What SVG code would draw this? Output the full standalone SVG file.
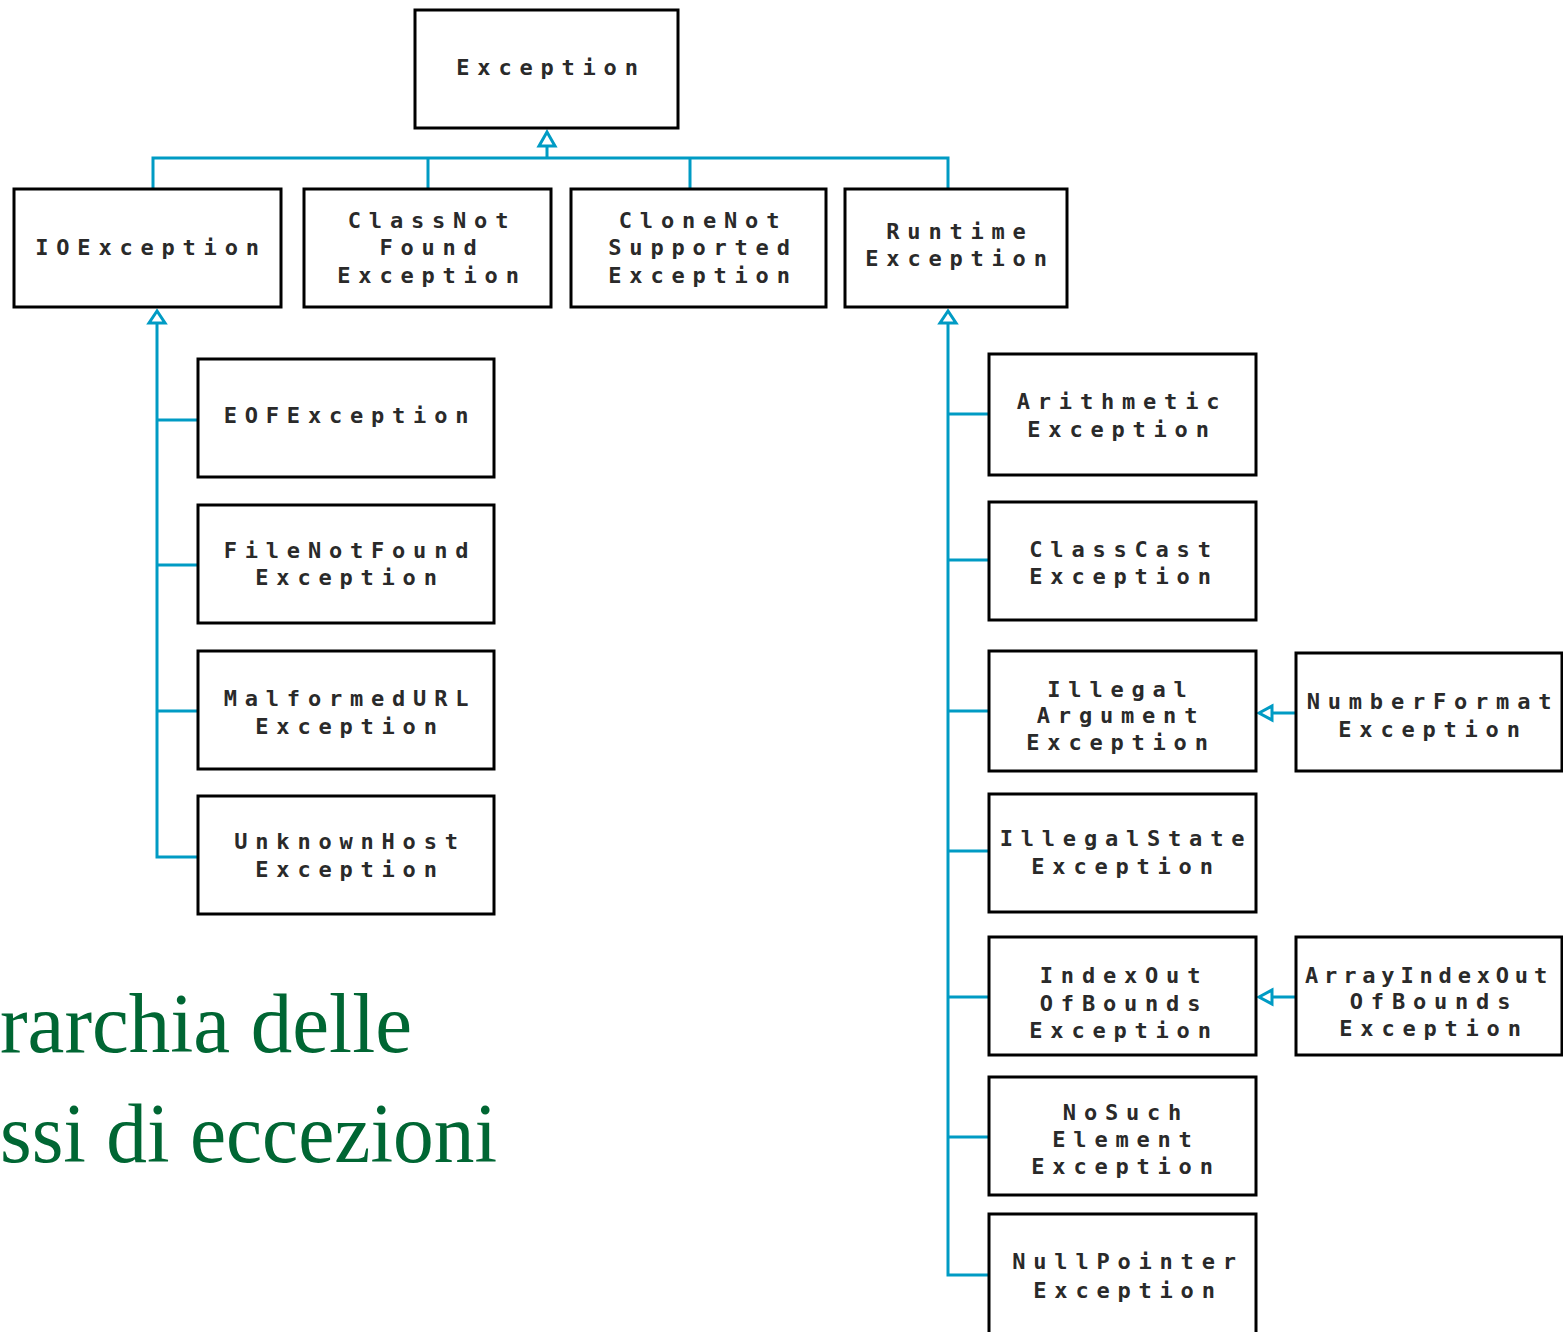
<svg xmlns="http://www.w3.org/2000/svg" width="1563" height="1332" viewBox="0 0 1563 1332">
<style>
.box{fill:#fff;stroke:#000;stroke-width:3}
.lbl{font-family:"DejaVu Sans Mono","Liberation Mono",monospace;font-size:22px;font-weight:bold;letter-spacing:7.8px;fill:#2a2a2a;text-anchor:middle}
.wire{fill:none;stroke:#009BC4;stroke-width:3}
.head{fill:#fff;stroke:#009BC4;stroke-width:3}
.title{font-family:"Liberation Serif","DejaVu Serif",serif;font-size:84px;fill:#006633}
</style>
<rect width="1563" height="1332" fill="#fff"/>
<g id="connectors">
<path class="wire" d="M153,189 V158 H948 V189 M428,158 V189 M690,158 V189 M547,158 V146"/>
<path class="wire" d="M157,323 V857 H198 M157,420 H198 M157,565 H198 M157,711 H198"/>
<path class="wire" d="M948,323 V1275 H989 M948,414 H989 M948,560 H989 M948,711 H989 M948,851 H989 M948,997 H989 M948,1137 H989"/>
<path class="wire" d="M1272,713 H1296 M1272,997 H1296"/>
<polygon class="head" points="547,132 539,146 555,146"/>
<polygon class="head" points="157,311 149,323 165,323"/>
<polygon class="head" points="948,311 940,323 956,323"/>
<polygon class="head" points="1259,713 1272,706 1272,720"/>
<polygon class="head" points="1259,997 1272,990 1272,1004"/>
</g>
<g id="n-exception"><rect class="box" x="415" y="10" width="263" height="118"/><text class="lbl" x="551" y="75">Exception</text></g>
<g id="n-ioexception"><rect class="box" x="14" y="189" width="267" height="118"/><text class="lbl" x="151" y="255">IOException</text></g>
<g id="n-classnotfound"><rect class="box" x="304" y="189" width="247" height="118"/><text class="lbl" x="432" y="228">ClassNot</text><text class="lbl" x="432" y="255">Found</text><text class="lbl" x="432" y="283">Exception</text></g>
<g id="n-clonenotsupported"><rect class="box" x="571" y="189" width="255" height="118"/><text class="lbl" x="703" y="228">CloneNot</text><text class="lbl" x="703" y="255">Supported</text><text class="lbl" x="703" y="283">Exception</text></g>
<g id="n-runtime"><rect class="box" x="845" y="189" width="222" height="118"/><text class="lbl" x="960" y="239">Runtime</text><text class="lbl" x="960" y="266">Exception</text></g>
<g id="n-eof"><rect class="box" x="198" y="359" width="296" height="118"/><text class="lbl" x="350" y="423">EOFException</text></g>
<g id="n-filenotfound"><rect class="box" x="198" y="505" width="296" height="118"/><text class="lbl" x="350" y="558">FileNotFound</text><text class="lbl" x="350" y="585">Exception</text></g>
<g id="n-malformedurl"><rect class="box" x="198" y="651" width="296" height="118"/><text class="lbl" x="350" y="706">MalformedURL</text><text class="lbl" x="350" y="734">Exception</text></g>
<g id="n-unknownhost"><rect class="box" x="198" y="796" width="296" height="118"/><text class="lbl" x="350" y="849">UnknownHost</text><text class="lbl" x="350" y="877">Exception</text></g>
<g id="n-arithmetic"><rect class="box" x="989" y="354" width="267" height="121"/><text class="lbl" x="1122" y="409">Arithmetic</text><text class="lbl" x="1122" y="437">Exception</text></g>
<g id="n-classcast"><rect class="box" x="989" y="502" width="267" height="118"/><text class="lbl" x="1124" y="557">ClassCast</text><text class="lbl" x="1124" y="584">Exception</text></g>
<g id="n-illegalargument"><rect class="box" x="989" y="651" width="267" height="120"/><text class="lbl" x="1121" y="697">Illegal</text><text class="lbl" x="1121" y="723">Argument</text><text class="lbl" x="1121" y="750">Exception</text></g>
<g id="n-illegalstate"><rect class="box" x="989" y="794" width="267" height="118"/><text class="lbl" x="1126" y="846">IllegalState</text><text class="lbl" x="1126" y="874">Exception</text></g>
<g id="n-indexout"><rect class="box" x="989" y="937" width="267" height="118"/><text class="lbl" x="1124" y="983">IndexOut</text><text class="lbl" x="1124" y="1011">OfBounds</text><text class="lbl" x="1124" y="1038">Exception</text></g>
<g id="n-nosuchelement"><rect class="box" x="989" y="1077" width="267" height="118"/><text class="lbl" x="1126" y="1120">NoSuch</text><text class="lbl" x="1126" y="1147">Element</text><text class="lbl" x="1126" y="1174">Exception</text></g>
<g id="n-nullpointer"><rect class="box" x="989" y="1214" width="267" height="130"/><text class="lbl" x="1128" y="1269">NullPointer</text><text class="lbl" x="1128" y="1298">Exception</text></g>
<g id="n-numberformat"><rect class="box" x="1296" y="653" width="266" height="118"/><text class="lbl" x="1433" y="709">NumberFormat</text><text class="lbl" x="1433" y="737">Exception</text></g>
<g id="n-arrayindexout"><rect class="box" x="1296" y="937" width="266" height="118"/><text class="lbl" x="1430" y="983" textLength="250">ArrayIndexOut</text><text class="lbl" x="1434" y="1009">OfBounds</text><text class="lbl" x="1434" y="1036">Exception</text></g>
<g id="title">
<text class="title" x="0" y="1052" textLength="412" lengthAdjust="spacingAndGlyphs">rarchia delle</text>
<text class="title" x="0" y="1162" textLength="497" lengthAdjust="spacingAndGlyphs">ssi di eccezioni</text>
</g>
</svg>
